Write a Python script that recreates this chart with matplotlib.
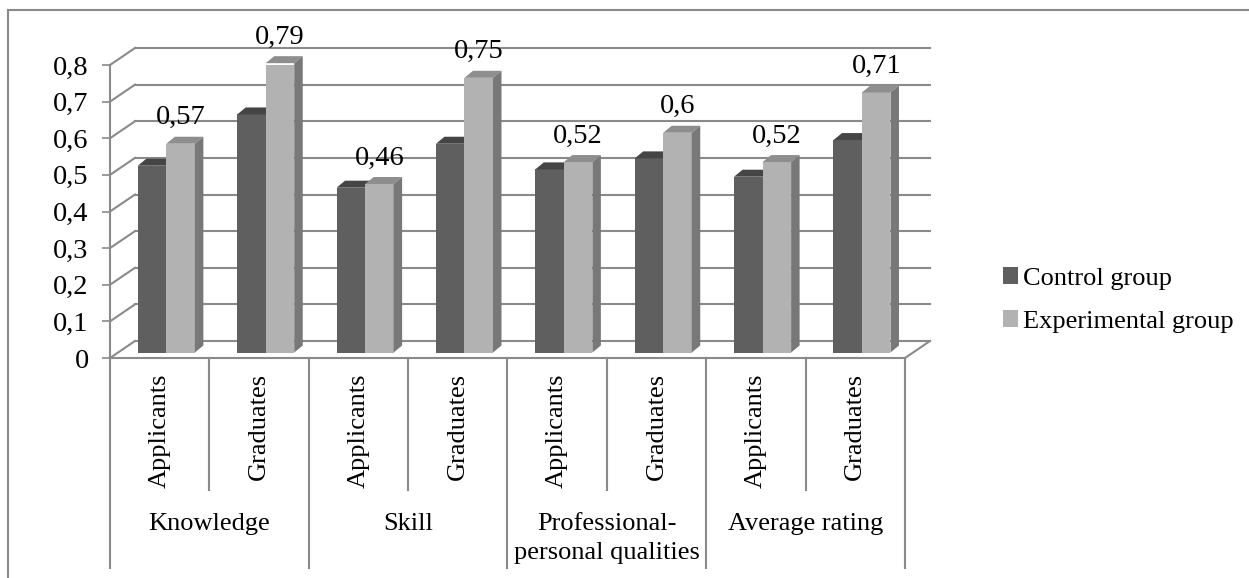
import matplotlib
matplotlib.use("Agg")
import matplotlib.pyplot as plt
from matplotlib.patches import Polygon, Patch
from matplotlib.lines import Line2D

plt.rcParams['font.family'] = ['Liberation Serif', 'DejaVu Serif']

# data
groups = ['Knowledge', 'Skill', 'Professional-\npersonal qualities', 'Average rating']
subgroups = ['Applicants', 'Graduates']
series = ['Control group', 'Experimental group']
control = [0.51, 0.65, 0.45, 0.57, 0.50, 0.53, 0.48, 0.58]
experimental = [0.57, 0.79, 0.46, 0.75, 0.52, 0.60, 0.52, 0.71]
yticks = [0, 0.1, 0.2, 0.3, 0.4, 0.5, 0.6, 0.7, 0.8]

# look
FS = 19
FS_NUM = 20.5
GRID = '#8a8a8a'
FRONT = ['#5f5f5f', '#b2b2b2']
TOP = ['#454545', '#8e8e8e']
SIDE = ['#6a6a6a', '#787878']

W, H = 1249, 578
fig = plt.figure(figsize=(W / 100, H / 100), dpi=100)
# front plane of the 3d box, in pixels: x 110..905, y 65..358 (from top)
ax = fig.add_axes([110 / W, (H - 358) / H, 795 / W, 293 / H])
ax.set_xlim(0, 8)
ax.set_ylim(0, 0.8)
AX_H = 293.0

# pixel -> data helpers for the fake depth
px_x = 8 / 795
px_y = 0.8 / 293
DX, DY = 25 * px_x, 17 * px_y          # box depth
BX, BY = 8 * px_x, 5.5 * px_y          # bars sit a bit inside the box
ddx, ddy = 8.5 * px_x, 7 * px_y        # bar depth

# walls: gridlines on back wall + diagonals on left wall
for v in yticks:
    ax.plot([DX, 8 + DX], [v + DY, v + DY], color=GRID, lw=1.5, clip_on=False, zorder=1)
    ax.plot([0, DX], [v, v + DY], color=GRID, lw=1.5, clip_on=False, zorder=1)
ax.plot([8, 8 + DX], [0, DY], color=GRID, lw=1.5, clip_on=False, zorder=1)

# bars
n = len(control)
bw = 0.287
for s, vals in enumerate([control, experimental]):
    for i, v in enumerate(vals):
        xl = i + 0.28 + s * bw
        xr = xl + bw
        top = BY + v
        ax.bar(xl, v, width=bw, bottom=BY, align='edge', color=FRONT[s],
               lw=0, zorder=3 + s)
        ax.add_patch(Polygon([(xl, top), (xr, top), (xr + ddx, top + ddy), (xl + ddx, top + ddy)],
                             closed=True, color=TOP[s], lw=0, zorder=3 + s, clip_on=False))
        ax.add_patch(Polygon([(xr, BY), (xr, top), (xr + ddx, top + ddy), (xr + ddx, BY + ddy)],
                             closed=True, color=SIDE[s], lw=0, zorder=3 + s, clip_on=False))
        if s == 1:
            ax.annotate(f'{v:g}'.replace('.', ','), xy=(xl + bw / 2, top), xytext=(0, 26),
                        textcoords='offset pixels', ha='center', va='center',
                        fontsize=FS_NUM, zorder=6, annotation_clip=False)

# axes styling
for side in ['top', 'right']:
    ax.spines[side].set_visible(False)
ax.spines['left'].set_color(GRID)
ax.spines['bottom'].set_color(GRID)
ax.spines['left'].set_linewidth(1.5)
ax.spines['bottom'].set_linewidth(1.5)
ax.set_yticks(yticks)
ax.set_yticklabels([f'{v:g}'.replace('.', ',') for v in yticks])
ax.tick_params(axis='y', direction='out', length=5.8, width=1.2, color=GRID,
               labelsize=FS_NUM, pad=9.5)
ax.set_xticks([])
ax.patch.set_alpha(0)

# category axis: separators and labels
xt = ax.get_xaxis_transform()
for k in range(0, n + 1, 2):
    ax.plot([k, k], [0, -210 / AX_H], transform=xt, color=GRID, lw=1.5, clip_on=False)
for k in range(1, n, 2):
    ax.plot([k, k], [0, -132 / AX_H], transform=xt, color=GRID, lw=1.5, clip_on=False)
for i in range(n):
    ax.annotate(subgroups[i % 2], xy=(i + 0.5, 0), xycoords=xt, xytext=(0, -15),
                textcoords='offset pixels', rotation=90, ha='center', va='top',
                fontsize=FS, annotation_clip=False)
for g, name in enumerate(groups):
    ax.annotate(name, xy=(2 * g + 1, 0), xycoords=xt, xytext=(0, -155),
                textcoords='offset pixels', ha='center', va='top', fontsize=FS,
                linespacing=1.4, annotation_clip=False)

# legend
handles = [Patch(facecolor=FRONT[s], edgecolor='none', label=series[s]) for s in range(2)]
fig.legend(handles=handles, loc='center left', bbox_to_anchor=(1003 / W, 1 - 300 / H),
           frameon=False, fontsize=FS, handlelength=0.57, handleheight=0.57,
           handletextpad=0.2, labelspacing=0.78, borderpad=0, borderaxespad=0)

# chart border (only top and left edges fall inside the picture)
fig.add_artist(Line2D([8 / W, 1], [1 - 10 / H, 1 - 10 / H], color=GRID, lw=1.5))
fig.add_artist(Line2D([8 / W, 8 / W], [0, 1 - 10 / H], color=GRID, lw=1.5))

fig.savefig('out.png', dpi=100)
